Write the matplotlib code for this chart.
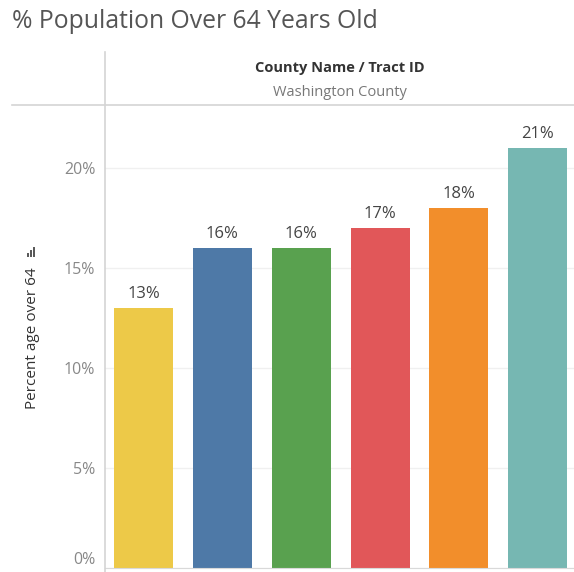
import matplotlib.pyplot as plt
import matplotlib.lines as mlines

tracts = ["A", "B", "C", "D", "E", "F"]
pct_over_64 = [13, 16, 16, 17, 18, 21]
bar_colors = ["#EDC948", "#4E79A7", "#59A14F", "#E15759", "#F28E2B", "#76B7B2"]
yticks = [0, 5, 10, 15, 20]

plt.rcParams['font.family'] = ['Open Sans', 'DejaVu Sans']

W, H = 574, 572
fig = plt.figure(figsize=(W / 100, H / 100), dpi=100)

# plot area: left edge x=105, top y=105, bottom y=568
ax = fig.add_axes([105 / W, (H - 568) / H, 1 - 105 / W, (568 - 105) / H])
x = range(len(tracts))
ax.bar(x, pct_over_64, width=0.75, color=bar_colors, zorder=2)
for i, v in enumerate(pct_over_64):
    ax.text(i, v + 0.3, f"{v}%", ha='center', va='bottom', fontsize=12, color='#444444')

ax.set_xlim(-0.49, 5.46)
ax.set_ylim(0, (568 - 105) / 20)
ax.set_yticks(yticks)
ax.set_yticklabels([f"{t}%" for t in yticks], fontsize=11.5, color='#888888')
ax.get_yticklabels()[0].set_va('bottom')
ax.set_xticks([])
ax.tick_params(axis='y', length=0, pad=7)
ax.grid(axis='y', color='#f0f0f0', linewidth=1, zorder=0)
for s in ax.spines.values():
    s.set_visible(False)
ax.spines['bottom'].set_visible(True)
ax.spines['bottom'].set_color('#d9d9d9')

fig.text(33 / W, 1 - 338 / H, "Percent age over 64", rotation=90, ha='center', va='center',
         fontsize=11, color='#333333')
# little sort icon above the axis label
for k, hgt in enumerate([2, 5, 8]):
    fig.add_artist(mlines.Line2D([(28 + k * 3) / W] * 2, [1 - 256 / H, 1 - (256 - hgt) / H],
                                 color='#555555', linewidth=1.4))

# header
fig.text(12 / W, 1 - 22 / H, "% Population Over 64 Years Old", ha='left', va='center',
         fontsize=17.8, color='#555555')
fig.text(340 / W, 1 - 68 / H, "County Name / Tract ID", ha='center', va='center',
         fontsize=10.5, fontweight='bold', color='#333333')
fig.text(340 / W, 1 - 93 / H, "Washington County", ha='center', va='center',
         fontsize=10.5, color='#777777')
fig.add_artist(mlines.Line2D([12 / W, 1], [1 - 105 / H] * 2, color='#d4d4d4', linewidth=1.2))
fig.add_artist(mlines.Line2D([105 / W] * 2, [0, 1 - 52 / H], color='#d4d4d4', linewidth=1.2))

fig.savefig("out.png", dpi=100, facecolor='white')
